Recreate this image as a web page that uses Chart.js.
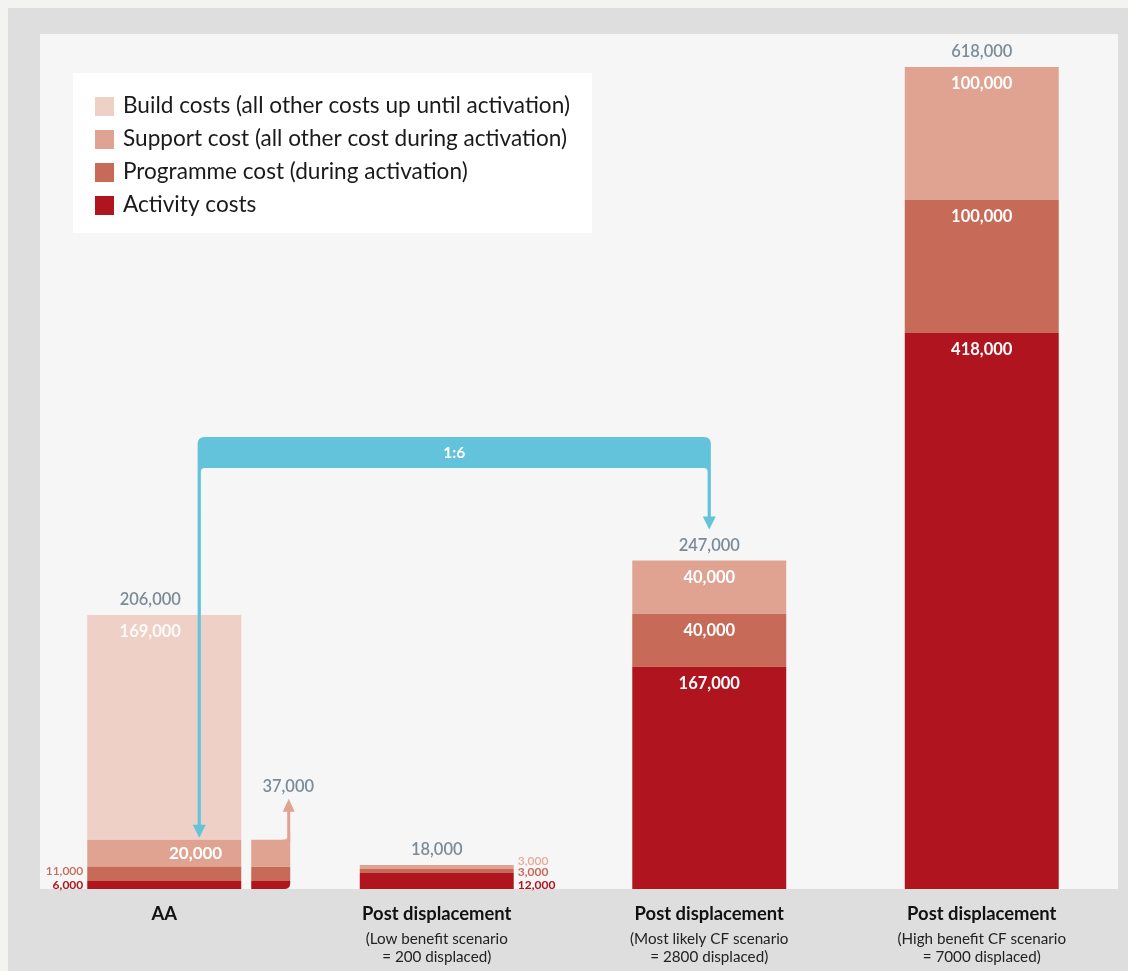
<!DOCTYPE html>
<html>
<head>
<meta charset="utf-8">
<script src="https://cdn.jsdelivr.net/npm/chart.js@4.4.0/dist/chart.umd.min.js"></script>
<style>
  html, body { margin: 0; padding: 0; background: #f3f3f1; }
  #wrap { width: 1128px; height: 971px; }
</style>
</head>
<body>
<div id="wrap"><canvas id="costChart" width="1128" height="971"></canvas></div>
<script>
const categories = ['AA', 'Post displacement', 'Post displacement', 'Post displacement'];
const subLabels = [
    [],
    ['(Low benefit scenario', '= 200 displaced)'],
    ['(Most likely CF scenario', '= 2800 displaced)'],
    ['(High benefit CF scenario', '= 7000 displaced)']
];
const activityCosts = [6000, 12000, 167000, 418000];
const programmeCosts = [11000, 3000, 40000, 100000];
const supportCosts = [20000, 3000, 40000, 100000];
const buildCosts = [169000, 0, 0, 0];
const totalCosts = [206000, 18000, 247000, 618000];
const aaRunningCost = 37000;   // AA without build costs
const ratioLabel = '1:6';

const seriesNames = [
    'Activity costs',
    'Programme cost (during activation)',
    'Support cost (all other cost during activation)',
    'Build costs (all other costs up until activation)'
];
const seriesColors = ['#b0151f', '#c86a58', '#e0a392', '#efd0c6'];

const FONT = 'Lato, "Noto Sans", sans-serif';
const TOTAL_COLOR = '#7a8b99';
const BRACKET_COLOR = '#62c3da';

const fmt = v => v.toLocaleString('en-US');

function font(size, weight) {
    return (weight || 'normal') + ' ' + size + 'px ' + FONT;
}

// background panels behind the plot
const panelPlugin = {
    id: 'panels',
    beforeDraw(chart) {
        const ctx = chart.ctx;
        const area = chart.chartArea;
        ctx.save();
        ctx.fillStyle = '#f3f3f1';
        ctx.fillRect(0, 0, chart.width, chart.height);
        ctx.fillStyle = '#dedede';
        ctx.fillRect(8, 8, chart.width - 8, chart.height - 8);
        ctx.fillStyle = '#f6f6f6';
        ctx.fillRect(40, 34, area.right - 40, area.bottom - 34);
        ctx.restore();
    }
};

function barBox(chart, dsIndex, i) {
    const el = chart.getDatasetMeta(dsIndex).data[i];
    const p = el.getProps(['x', 'y', 'base', 'width'], true);
    return { x: p.x, top: Math.min(p.y, p.base), bottom: Math.max(p.y, p.base), width: p.width };
}

function text(ctx, str, x, y, size, weight, color, align) {
    ctx.font = font(size, weight);
    ctx.fillStyle = color;
    ctx.textAlign = align || 'center';
    ctx.textBaseline = 'middle';
    ctx.fillText(str, x, y);
}

const series = [activityCosts, programmeCosts, supportCosts, buildCosts];

// value labels, AA running-cost bar, ratio bracket, legend, category labels
const annotatePlugin = {
    id: 'annotate',
    afterDatasetsDraw(chart) {
        const ctx = chart.ctx;
        const xs = chart.scales.x;
        const ys = chart.scales.y;
        const area = chart.chartArea;
        ctx.save();

        // totals above each stack
        totalCosts.forEach((t, i) => {
            const cx = xs.getPixelForValue(i) - (i === 0 ? 14 : 0);
            text(ctx, fmt(t), cx, ys.getPixelForValue(t) - 15, 16.5, '600', TOTAL_COLOR);
        });

        // segment labels for the two large bars
        [2, 3].forEach(i => {
            series.forEach((s, d) => {
                if (!s[i]) return;
                const b = barBox(chart, d, i);
                text(ctx, fmt(s[i]), b.x, b.top + 17, 16.5, 'bold', '#ffffff');
            });
        });

        // AA bar labels
        const aaBuild = barBox(chart, 3, 0);
        text(ctx, fmt(buildCosts[0]), aaBuild.x - 14, aaBuild.top + 17, 16.5, 'bold', 'rgba(255,255,255,0.9)');
        const aaSup = barBox(chart, 2, 0);
        text(ctx, fmt(supportCosts[0]), aaSup.x + aaSup.width / 2 - 19, (aaSup.top + aaSup.bottom) / 2, 17, 'bold', '#ffffff', 'right');
        const aaProg = barBox(chart, 1, 0);
        const aaLeft = aaProg.x - aaProg.width / 2;
        text(ctx, fmt(programmeCosts[0]), aaLeft - 4, (aaProg.top + aaProg.bottom) / 2 - 3, 12, '600', seriesColors[1], 'right');
        const aaAct = barBox(chart, 0, 0);
        text(ctx, fmt(activityCosts[0]), aaLeft - 4, (aaAct.top + aaAct.bottom) / 2, 12, 'bold', seriesColors[0], 'right');

        // low benefit bar: labels to the right
        const lbSup = barBox(chart, 2, 1);
        const lbRight = lbSup.x + lbSup.width / 2 + 4;
        text(ctx, fmt(supportCosts[1]), lbRight, lbSup.top - 4, 12, '600', '#e6a997', 'left');
        const lbProg = barBox(chart, 1, 1);
        text(ctx, fmt(programmeCosts[1]), lbRight, (lbProg.top + lbProg.bottom) / 2 + 1, 12, 'bold', seriesColors[1], 'left');
        const lbAct = barBox(chart, 0, 1);
        text(ctx, fmt(activityCosts[1]), lbRight, (lbAct.top + lbAct.bottom) / 2 + 4, 12, 'bold', seriesColors[0], 'left');

        // narrow AA running-cost bar with arrow
        const aaRight = aaAct.x + aaAct.width / 2;
        const nx0 = aaRight + 10, nx1 = nx0 + 39;
        const base = ys.getPixelForValue(0);
        let acc = 0;
        [activityCosts, programmeCosts, supportCosts].forEach((s, d) => {
            const yb = ys.getPixelForValue(acc);
            acc += s[0];
            const yt = ys.getPixelForValue(acc);
            ctx.fillStyle = seriesColors[d];
            ctx.beginPath();
            if (d === 0) {
                const r = 6;
                ctx.moveTo(nx0, yt);
                ctx.lineTo(nx1, yt);
                ctx.lineTo(nx1, base - r);
                ctx.quadraticCurveTo(nx1, base, nx1 - r, base);
                ctx.lineTo(nx0, base);
                ctx.closePath();
            } else {
                ctx.rect(nx0, yt, nx1 - nx0, yb - yt);
            }
            ctx.fill();
        });
        const runTop = ys.getPixelForValue(aaRunningCost);
        ctx.fillStyle = seriesColors[2];
        ctx.beginPath();
        ctx.moveTo(nx1 - 9, runTop);
        ctx.quadraticCurveTo(nx1, runTop, nx1, runTop - 9);
        ctx.lineTo(nx1, runTop);
        ctx.closePath();
        ctx.fill();
        const tipY = runTop - 41;
        ctx.fillRect(nx1 - 3, tipY + 12, 3, runTop - tipY - 10);
        ctx.beginPath();
        ctx.moveTo(nx1 - 1.5, tipY);
        ctx.lineTo(nx1 - 7.5, tipY + 13);
        ctx.lineTo(nx1 + 4.5, tipY + 13);
        ctx.closePath();
        ctx.fill();
        text(ctx, fmt(aaRunningCost), nx1 - 2, tipY - 12, 16.5, '600', TOTAL_COLOR);

        // ratio bracket from AA running cost to the most likely scenario
        const xL = xs.getPixelForValue(0) + 35;
        const xR = xs.getPixelForValue(2);
        const bTop = 437, bBot = 468, w = 1.6, r = 7;
        const tipL = runTop - 2;
        const tipR = ys.getPixelForValue(totalCosts[2]) - 31;
        ctx.fillStyle = BRACKET_COLOR;
        ctx.beginPath();
        ctx.moveTo(xL - w, tipL - 12);
        ctx.lineTo(xL - w, bTop + r);
        ctx.quadraticCurveTo(xL - w, bTop, xL - w + r, bTop);
        ctx.lineTo(xR + w - r, bTop);
        ctx.quadraticCurveTo(xR + w, bTop, xR + w, bTop + r);
        ctx.lineTo(xR + w, tipR - 12);
        ctx.lineTo(xR - w, tipR - 12);
        ctx.lineTo(xR - w, bBot + 4);
        ctx.quadraticCurveTo(xR - w, bBot, xR - w - 4, bBot);
        ctx.lineTo(xL + w + 4, bBot);
        ctx.quadraticCurveTo(xL + w, bBot, xL + w, bBot + 4);
        ctx.lineTo(xL + w, tipL - 12);
        ctx.closePath();
        ctx.fill();
        [[xL, tipL], [xR, tipR]].forEach(([ax, ay]) => {
            ctx.beginPath();
            ctx.moveTo(ax, ay);
            ctx.lineTo(ax - 6.5, ay - 13);
            ctx.lineTo(ax + 6.5, ay - 13);
            ctx.closePath();
            ctx.fill();
        });
        text(ctx, ratioLabel, (xL + xR) / 2, (bTop + bBot) / 2, 15.5, 'bold', '#ffffff');

        // legend box
        ctx.fillStyle = '#ffffff';
        ctx.fillRect(73, 73, 519, 160);
        [3, 2, 1, 0].forEach((d, row) => {
            const cy = 106 + row * 33;
            ctx.fillStyle = seriesColors[d];
            ctx.fillRect(95, cy - 9, 19, 19);
            text(ctx, seriesNames[d], 123, cy, 22.6, 'normal', '#1a1a1a', 'left');
        });

        // category labels under the plot
        categories.forEach((c, i) => {
            const cx = xs.getPixelForValue(i);
            text(ctx, c, cx, area.bottom + 25, 18.4, 'bold', '#111111');
            subLabels[i].forEach((line, k) => {
                text(ctx, line, cx, area.bottom + 50 + k * 18, 15.2, 'normal', '#222222');
            });
        });

        ctx.restore();
    }
};

function initializeChart() {
    const canvas = document.getElementById('costChart');
    const ctx = canvas.getContext('2d');
    new Chart(ctx, {
        type: 'bar',
        data: {
            labels: categories,
            datasets: series.map((s, d) => ({
                label: seriesNames[d],
                data: s,
                backgroundColor: seriesColors[d],
                borderWidth: 0,
                barPercentage: 0.565,
                categoryPercentage: 1
            }))
        },
        options: {
            responsive: false,
            animation: false,
            devicePixelRatio: 1,
            layout: { padding: { left: 28, right: 10, top: 67, bottom: 82 } },
            plugins: {
                legend: { display: false },
                tooltip: { enabled: false }
            },
            scales: {
                x: { stacked: true, display: false },
                y: { stacked: true, display: false, min: 0, max: 618000 }
            }
        },
        plugins: [panelPlugin, annotatePlugin]
    });
}

document.addEventListener('DOMContentLoaded', initializeChart);
</script>
</body>
</html>
